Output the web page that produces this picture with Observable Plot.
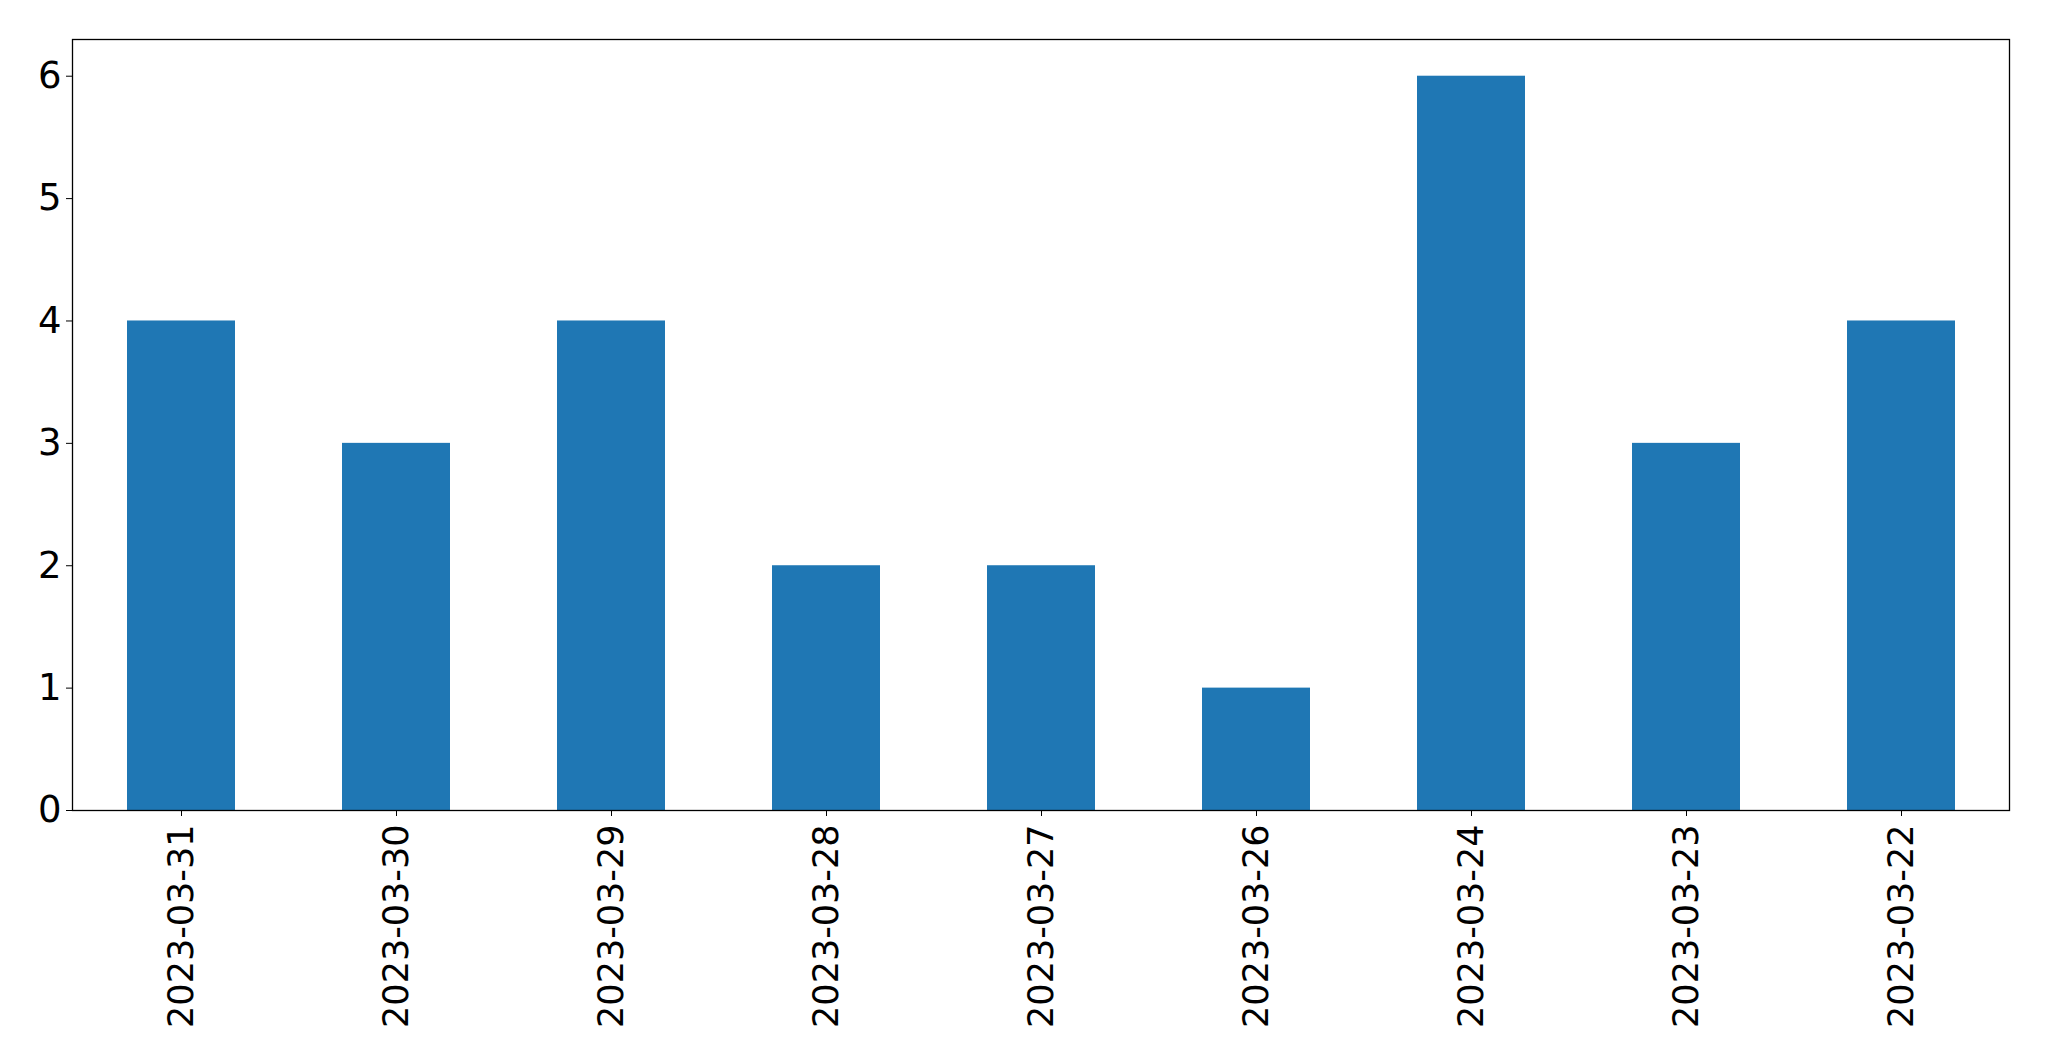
<!DOCTYPE html>
<html><head><meta charset="utf-8">
<script src="https://cdn.jsdelivr.net/npm/d3@7"></script>
<script src="https://cdn.jsdelivr.net/npm/@observablehq/plot@0.6"></script>
<style>body{margin:0;background:#fff;} svg{display:block;}</style>
</head><body><div id="chart"></div>
<script>
const dates = ["2023-03-31","2023-03-30","2023-03-29","2023-03-28","2023-03-27","2023-03-26","2023-03-24","2023-03-23","2023-03-22"];
const counts = [4,3,4,2,2,1,6,3,4];
const yTicks = [0,1,2,3,4,5,6];
const data = dates.map((d,i)=>({date:d, count:counts[i]}));
const chart = Plot.plot({
  width: 2049, height: 1061,
  marginLeft: 72, marginRight: 40, marginTop: 39, marginBottom: 251,
  style: {fontFamily: "DejaVu Sans", fontSize: "35px", color: "#000", background: "#fff"},
  x: {domain: dates, paddingInner: 0.5, paddingOuter: 0.25, label: null},
  y: {domain: [0, 6.3], label: null},
  marks: [
    Plot.barY(data, {x: "date", y: "count", fill: "#1f77b4"}),
    Plot.frame({stroke: "#000", strokeWidth: 1.3}),
    Plot.axisY({ticks: yTicks, tickSize: 6, tickPadding: 5, label: null, tickFormat: d3.format("d"), stroke: "#000", fontSize: 37}),
    Plot.axisX({tickSize: 6, tickPadding: 8, tickRotate: -90, label: null, stroke: "#000", fontSize: 35})
  ]
});
document.getElementById("chart").appendChild(chart);
</script></body></html>
